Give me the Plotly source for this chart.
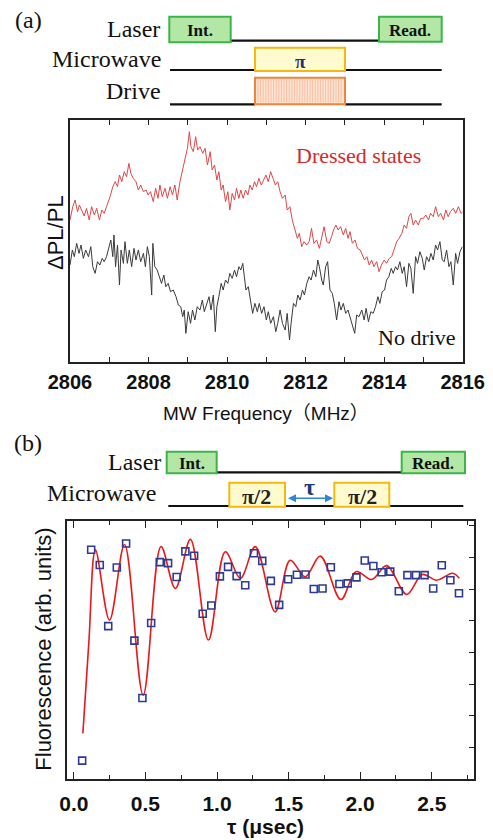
import plotly.graph_objects as go

# ---------------- (a) ODMR spectra ----------------
red_freq = [
    2806.00, 2806.07, 2806.13, 2806.19, 2806.24, 2806.30, 2806.36, 2806.42, 2806.49, 2806.55,
    2806.62, 2806.68, 2806.75, 2806.81, 2806.87, 2806.93, 2807.02, 2807.09, 2807.15, 2807.21,
    2807.26, 2807.32, 2807.38, 2807.44, 2807.50, 2807.55, 2807.61, 2807.68, 2807.74, 2807.80,
    2807.87, 2807.94, 2807.99, 2808.05, 2808.12, 2808.18, 2808.24, 2808.29, 2808.35, 2808.42,
    2808.48, 2808.55, 2808.61, 2808.67, 2808.73, 2808.80, 2808.86, 2808.93, 2808.99, 2809.04,
    2809.08, 2809.14, 2809.20, 2809.25, 2809.31, 2809.38, 2809.44, 2809.50, 2809.57, 2809.62,
    2809.68, 2809.74, 2809.79, 2809.85, 2809.90, 2809.96, 2810.02, 2810.07, 2810.13, 2810.19,
    2810.24, 2810.30, 2810.35, 2810.41, 2810.47, 2810.53, 2810.58, 2810.64, 2810.70, 2810.75,
    2810.81, 2810.87, 2810.93, 2810.99, 2811.05, 2811.11, 2811.17, 2811.23, 2811.29, 2811.35,
    2811.41, 2811.48, 2811.53, 2811.60, 2811.66, 2811.73, 2811.79, 2811.84, 2811.90, 2811.96,
    2812.03, 2812.09, 2812.15, 2812.21, 2812.28, 2812.35, 2812.41, 2812.47, 2812.54, 2812.60,
    2812.66, 2812.71, 2812.77, 2812.83, 2812.89, 2812.96, 2813.02, 2813.08, 2813.13, 2813.19,
    2813.26, 2813.32, 2813.39, 2813.44, 2813.50, 2813.56, 2813.62, 2813.68, 2813.74, 2813.81,
    2813.87, 2813.93, 2814.00, 2814.06, 2814.13, 2814.19, 2814.25, 2814.32, 2814.38, 2814.45,
    2814.51, 2814.57, 2814.63, 2814.68, 2814.74, 2814.80, 2814.87, 2814.93, 2815.00, 2815.06,
    2815.13, 2815.18, 2815.25, 2815.31, 2815.38, 2815.44, 2815.51, 2815.57, 2815.63, 2815.69,
    2815.76, 2815.82, 2815.89, 2815.96, 2816.00,
]
red_dpl = [
    4.25, 4.65, 4.85, 4.50, 4.70, 4.55, 4.37, 4.60, 4.25, 4.65,
    4.40, 4.60, 4.25, 4.55, 4.45, 4.65, 4.95, 5.25, 5.40, 5.25,
    5.60, 5.40, 5.70, 5.55, 5.95, 5.65, 5.50, 5.40, 5.15, 5.30,
    5.10, 5.15, 5.00, 5.10, 4.80, 5.20, 4.90, 5.30, 4.95, 5.20,
    4.90, 5.25, 5.00, 5.30, 4.85, 5.40, 5.70, 6.05, 6.40, 6.90,
    6.45, 6.30, 6.75, 6.35, 6.45, 6.25, 6.40, 5.90, 6.30, 5.75,
    5.90, 5.45, 5.70, 5.15, 5.30, 4.80, 5.10, 4.55, 5.05, 4.85,
    5.20, 4.90, 5.15, 4.90, 5.15, 5.00, 5.30, 5.15, 5.40, 5.25,
    5.50, 5.30, 5.45, 5.60, 5.40, 5.70, 5.50, 5.30, 5.40, 5.10,
    4.90, 5.00, 4.55, 4.65, 4.25, 3.95, 3.70, 3.85, 3.45, 3.60,
    3.50, 3.60, 4.00, 3.55, 3.65, 3.40, 3.75, 4.05, 3.60, 3.55,
    3.75, 3.95, 4.10, 3.95, 4.05, 3.80, 4.00, 3.70, 3.90, 3.55,
    3.65, 3.40, 3.35, 3.20, 3.05, 3.15, 2.90, 3.05, 2.85, 3.00,
    2.70, 2.90, 3.05, 2.95, 3.10, 3.15, 3.35, 3.60, 3.70, 3.85,
    4.10, 4.00, 4.35, 4.45, 4.10, 4.25, 4.10, 4.30, 4.30, 4.40,
    4.25, 4.45, 4.35, 4.65, 4.35, 4.45, 4.25, 4.55, 4.35, 4.50,
    4.60, 4.45, 4.65, 4.45, 4.50,
]

black_freq = [
    2806.00, 2806.06, 2806.11, 2806.17, 2806.23, 2806.28, 2806.34, 2806.40, 2806.47, 2806.53,
    2806.58, 2806.64, 2806.70, 2806.76, 2806.82, 2806.87, 2806.93, 2806.99, 2807.04, 2807.09,
    2807.12, 2807.16, 2807.21, 2807.26, 2807.30, 2807.36, 2807.40, 2807.46, 2807.51, 2807.57,
    2807.63, 2807.68, 2807.74, 2807.80, 2807.87, 2807.92, 2807.97, 2808.02, 2808.08, 2808.11,
    2808.16, 2808.22, 2808.28, 2808.33, 2808.39, 2808.44, 2808.50, 2808.56, 2808.63, 2808.70,
    2808.76, 2808.82, 2808.87, 2808.91, 2808.95, 2809.01, 2809.07, 2809.12, 2809.18, 2809.24,
    2809.31, 2809.37, 2809.42, 2809.48, 2809.54, 2809.59, 2809.65, 2809.70, 2809.74, 2809.79,
    2809.85, 2809.90, 2809.96, 2810.02, 2810.07, 2810.13, 2810.19, 2810.24, 2810.30, 2810.35,
    2810.40, 2810.44, 2810.48, 2810.54, 2810.60, 2810.65, 2810.71, 2810.77, 2810.82, 2810.88,
    2810.94, 2811.00, 2811.05, 2811.11, 2811.18, 2811.24, 2811.29, 2811.35, 2811.41, 2811.48,
    2811.53, 2811.59, 2811.63, 2811.69, 2811.75, 2811.80, 2811.86, 2811.92, 2811.97, 2812.03,
    2812.09, 2812.14, 2812.20, 2812.26, 2812.31, 2812.35, 2812.41, 2812.45, 2812.51, 2812.56,
    2812.62, 2812.68, 2812.73, 2812.79, 2812.85, 2812.90, 2812.96, 2813.02, 2813.08, 2813.13,
    2813.19, 2813.25, 2813.30, 2813.36, 2813.43, 2813.49, 2813.54, 2813.60, 2813.66, 2813.72,
    2813.78, 2813.84, 2813.89, 2813.95, 2814.01, 2814.06, 2814.12, 2814.18, 2814.23, 2814.29,
    2814.34, 2814.40, 2814.46, 2814.51, 2814.57, 2814.63, 2814.68, 2814.74, 2814.80, 2814.85,
    2814.91, 2814.97, 2815.02, 2815.08, 2815.14, 2815.19, 2815.25, 2815.31, 2815.36, 2815.42,
    2815.48, 2815.53, 2815.59, 2815.65, 2815.70, 2815.76, 2815.82, 2815.87, 2815.93, 2815.99,
]
black_dpl = [
    2.90, 3.35, 3.15, 3.55, 3.25, 3.50, 3.10, 3.35, 3.15, 3.45,
    2.85, 2.65, 3.00, 2.90, 3.10, 3.00, 3.15, 3.45, 3.65, 3.15,
    3.80, 2.85, 3.50, 2.30, 3.35, 2.95, 3.60, 2.95, 3.35, 2.85,
    3.40, 3.05, 3.35, 3.00, 3.25, 2.85, 3.45, 3.15, 2.00, 3.55,
    2.85, 2.75, 2.50, 2.35, 2.60, 2.25, 2.35, 2.10, 2.15, 1.95,
    1.70, 1.65, 1.35, 1.55, 0.85, 1.50, 1.15, 1.55, 1.25, 1.65,
    1.55, 1.85, 1.50, 1.75, 1.95, 1.55, 2.00, 0.90, 1.65, 1.95,
    2.35, 2.15, 2.45, 2.35, 2.65, 2.50, 2.75, 2.55, 2.85, 2.75,
    2.95, 2.55, 2.15, 2.25, 1.75, 1.45, 1.75, 1.50, 1.75, 1.45,
    1.65, 1.25, 1.50, 1.15, 1.35, 0.90, 1.15, 1.55, 1.15, 0.95,
    1.45, 0.65, 1.15, 1.75, 1.65, 2.00, 1.85, 2.15, 2.00, 2.35,
    2.55, 2.45, 2.75, 2.55, 3.05, 2.85, 2.45, 2.30, 2.85, 3.00,
    2.15, 2.05, 1.75, 1.25, 1.80, 1.55, 1.75, 1.45, 1.55, 1.35,
    1.15, 0.85, 1.40, 1.35, 1.55, 1.25, 1.60, 1.20, 1.50, 1.45,
    1.65, 1.95, 1.75, 2.10, 2.15, 2.45, 2.55, 2.80, 2.65, 2.85,
    2.75, 3.00, 2.65, 2.85, 2.25, 2.95, 2.80, 2.05, 3.15, 2.95,
    3.30, 3.10, 2.75, 3.15, 3.00, 3.25, 3.05, 3.50, 3.35, 3.60,
    3.05, 3.00, 3.35, 2.85, 3.00, 2.30, 3.25, 2.95, 3.30, 3.45,
]
freq_ticks = [2806, 2808, 2810, 2812, 2814, 2816]

# ---------------- (b) Ramsey fringes ----------------
tau_data = [
    0.058, 0.121, 0.181, 0.240, 0.300, 0.365, 0.423, 0.479, 0.540, 0.600,
    0.658, 0.718, 0.779, 0.840, 0.900, 0.960, 1.020, 1.077, 1.137, 1.197,
    1.258, 1.316, 1.376, 1.434, 1.497, 1.558, 1.618, 1.676, 1.737, 1.795,
    1.855, 1.913, 1.974, 2.032, 2.092, 2.150, 2.210, 2.270, 2.330, 2.390,
    2.450, 2.510, 2.570, 2.630, 2.690,
]
fluor_data = [
    0.58, 7.24, 6.76, 4.83, 6.68, 7.44, 4.37, 2.56, 4.93, 6.85,
    6.82, 6.38, 7.19, 7.05, 5.22, 5.48, 6.40, 6.70, 6.41, 6.12,
    7.13, 6.89, 6.26, 5.50, 6.31, 6.45, 6.46, 6.00, 6.02, 6.69,
    6.16, 6.18, 6.37, 6.90, 6.73, 6.53, 6.55, 5.93, 6.44, 6.44,
    6.44, 6.02, 6.75, 6.28, 5.87,
]
tau_fit = [
    0.063, 0.105, 0.151, 0.249, 0.354, 0.484, 0.609, 0.709, 0.814, 0.940,
    1.058, 1.163, 1.267, 1.406, 1.511, 1.616, 1.721, 1.865, 1.971, 2.080,
    2.185, 2.325, 2.434, 2.534, 2.646, 2.692,
]
fluor_fit = [
    1.44, 4.34, 7.23, 5.02, 7.41, 2.65, 7.34, 6.02, 7.57, 4.39,
    7.18, 6.34, 7.34, 5.28, 6.91, 6.39, 7.04, 5.67, 6.55, 6.30,
    6.74, 5.83, 6.46, 6.28, 6.50, 6.34,
]

# the page body has an 8 px default margin: the figure fills the rest of the window
OFF = 8
W, H = 493 - OFF, 840 - OFF


def X(px):
    return (px - OFF) / W


def Y(py):
    return 1 - (py - OFF) / H


SANS = "Liberation Sans, Arial, sans-serif"
SERIF = "Liberation Serif, Times New Roman, serif"
GOTHIC = "Liberation Sans, Noto Sans CJK JP, sans-serif"

fig = go.Figure()

fig.add_trace(go.Scatter(x=red_freq, y=red_dpl, mode="lines",
                         line=dict(color="#dc4848", width=1),
                         xaxis="x", yaxis="y", showlegend=False))
fig.add_trace(go.Scatter(x=black_freq, y=black_dpl, mode="lines",
                         line=dict(color="#3a3a3a", width=1),
                         xaxis="x", yaxis="y", showlegend=False))

fig.add_trace(go.Scatter(x=tau_fit, y=fluor_fit, mode="lines",
                         line=dict(color="#e8191b", width=1.6, shape="spline", smoothing=1.0),
                         xaxis="x2", yaxis="y2", showlegend=False))
fig.add_trace(go.Scatter(x=tau_data, y=fluor_data, mode="markers",
                         marker=dict(symbol="square-open", size=7, color="#2e3a94",
                                     line=dict(width=1.6, color="#2e3a94")),
                         xaxis="x2", yaxis="y2", showlegend=False))

tickfont = dict(family=SANS, size=20, color="#111", weight="bold")

fig.update_layout(
    width=W, height=H, autosize=False,
    margin=dict(l=0, r=0, t=0, b=0, pad=0, autoexpand=False),
    paper_bgcolor="white", plot_bgcolor="white",
    xaxis=dict(domain=[X(70), X(462.7)], anchor="y", range=[2806, 2816],
               automargin=False,
               tickvals=freq_ticks, ticks="inside", ticklen=5, tickwidth=1.2,
               tickcolor="#222", showline=True, linecolor="#222", linewidth=1.5,
               mirror="ticks", showgrid=False, zeroline=False, tickfont=tickfont,
               ticklabelstandoff=2,
               minor=dict(dtick=1, tick0=2806, ticks="inside", ticklen=5,
                          tickcolor="#222", tickwidth=1.2, showgrid=False)),
    yaxis=dict(domain=[Y(361.7), Y(120)], anchor="x", range=[0, 7.25],
               automargin=False,
               showticklabels=False, ticks="", showline=True, linecolor="#222",
               linewidth=1.5, mirror=True, showgrid=False, zeroline=False),
    xaxis2=dict(domain=[X(66.7), X(474)], anchor="y2", range=[-0.05, 2.795],
                automargin=False,
                tick0=0, dtick=0.5, tickformat=".1f", ticks="inside", ticklen=7,
                tickwidth=1.2, tickcolor="#222", showline=True, linecolor="#222",
                linewidth=1.5, mirror="ticks", showgrid=False, zeroline=False,
                tickfont=dict(family=SANS, size=21, color="#111", weight="bold"),
                ticklabelstandoff=5,
                minor=dict(dtick=0.25, tick0=0, ticks="inside", ticklen=4,
                           tickcolor="#222", tickwidth=1.2, showgrid=False)),
    yaxis2=dict(domain=[Y(779), Y(521)], anchor="x2", range=[0, 8.15],
                automargin=False,
                side="right", tick0=0, dtick=1, ticks="inside", ticklen=5,
                tickcolor="#222", tickwidth=1.2, showticklabels=False,
                showline=True, linecolor="#222", linewidth=1.5, mirror=True,
                showgrid=False, zeroline=False),
)

shapes = []
annos = []


def rect(x0, y0, x1, y1, fill, border, lw=2):
    shapes.append(dict(type="rect", xref="paper", yref="paper",
                       x0=X(x0), x1=X(x1), y0=Y(y1), y1=Y(y0),
                       fillcolor=fill, line=dict(color=border, width=lw), layer="above"))


def hline(x0, x1, y, color="#111", lw=2.2):
    shapes.append(dict(type="line", xref="paper", yref="paper",
                       x0=X(x0), x1=X(x1), y0=Y(y), y1=Y(y),
                       line=dict(color=color, width=lw), layer="above"))


def text(px, py, s, size, family=SERIF, color="#111", xanchor="center", bold=False):
    annos.append(dict(xref="paper", yref="paper", x=X(px), y=Y(py), text=s,
                      showarrow=False, xanchor=xanchor, yanchor="middle",
                      font=dict(family=family, size=size, color=color,
                                weight="bold" if bold else "normal")))


GREEN_F, GREEN_B = "#b4e6a6", "#3bb54a"
YEL_F, YEL_B = "#fffbcf", "#f6b80c"
ORG_F, ORG_B = "#fde3d2", "#f0843a"

# ---- pulse diagram (a)
text(28, 20, "(a)", 24)
text(162, 29, "Laser", 24, xanchor="right")
text(163, 59, "Microwave", 24, xanchor="right")
text(163, 91, "Drive", 24, xanchor="right")
hline(230, 380, 40.7)
hline(170, 255, 70)
hline(345, 441.7, 70)
hline(170, 255, 104.3)
hline(345, 441.7, 104.3)
rect(169.3, 16.7, 230.7, 42.3, GREEN_F, GREEN_B)
rect(379, 16.7, 441.7, 41.7, GREEN_F, GREEN_B)
rect(255, 47.7, 345, 71, YEL_F, YEL_B)
rect(255, 77.7, 345, 104.3, ORG_F, ORG_B)
sx = 258.0
while sx < 343:
    shapes.append(dict(type="line", xref="paper", yref="paper",
                       x0=X(sx), x1=X(sx), y0=Y(102.5), y1=Y(79.5),
                       line=dict(color="#f6b89a", width=0.8), layer="above"))
    sx += 2.6
text(200, 30, "Int.", 17, bold=True)
text(410.3, 30, "Read.", 17, bold=True)
text(300, 61, "π", 19, color="#1d2f7a", bold=True)

# ---- plot (a) texts
text(358.8, 155, "Dressed states", 22, color="#d42a2a")
text(417, 337, "No drive", 22)
annos.append(dict(xref="paper", yref="paper", x=X(55), y=Y(233), text="ΔPL/PL",
                  showarrow=False, textangle=-90, xanchor="center", yanchor="middle",
                  font=dict(family=SANS, size=22, color="#111")))
text(266, 414, "MW Frequency（MHz）", 19, family=GOTHIC)

# ---- pulse diagram (b)
text(28, 443, "(b)", 24)
text(163, 462, "Laser", 24, xanchor="right")
text(158, 493, "Microwave", 24, xanchor="right")
hline(216.7, 401.7, 472.3)
hline(168.3, 229.3, 506)
hline(285, 334.3, 506)
hline(389.3, 463.3, 506)
rect(166.7, 451.7, 216.7, 473.3, GREEN_F, GREEN_B)
rect(401.7, 451.7, 465, 473.3, GREEN_F, GREEN_B)
rect(229.3, 482.7, 285, 506.7, YEL_F, YEL_B)
rect(334.3, 482.7, 389.3, 506.7, YEL_F, YEL_B)
text(192, 463, "Int.", 17, bold=True)
text(433.3, 463, "Read.", 17, bold=True)
text(257, 496, "π/2", 22, bold=True, color="#222")
text(362, 496, "π/2", 22, bold=True, color="#222")
text(309.7, 487, "τ", 24, color="#1d3a7a", bold=True)
annos.append(dict(xref="paper", yref="paper", axref="pixel", ayref="pixel",
                  x=X(333), y=Y(498.3), ax=-46.5, ay=0, text="",
                  showarrow=True, arrowside="end+start", arrowhead=2, arrowsize=1,
                  arrowwidth=1.6, arrowcolor="#2f86d6"))

# ---- plot (b) texts
annos.append(dict(xref="paper", yref="paper", x=X(42.7), y=Y(649), text="Fluorescence (arb. units)",
                  showarrow=False, textangle=-90, xanchor="center", yanchor="middle",
                  font=dict(family=SANS, size=22, color="#111")))
text(265, 826, "τ (μsec)", 21, family=SANS, bold=True)

fig.update_layout(shapes=shapes, annotations=annos)
fig.write_html("out.html")
